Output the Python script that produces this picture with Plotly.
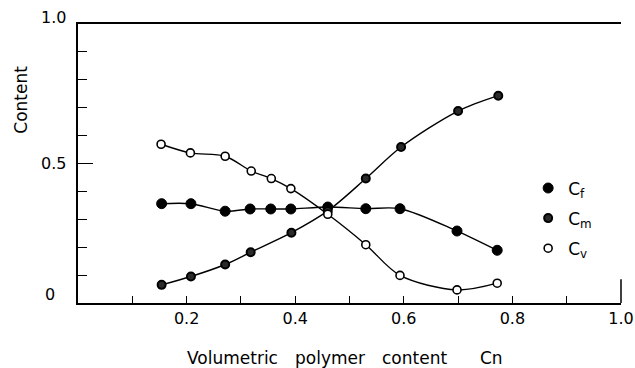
import plotly.graph_objects as go

# ---- data ----
x_f = [0.154, 0.208, 0.271, 0.317, 0.355, 0.392, 0.460, 0.530, 0.593, 0.698, 0.772]
c_f = [0.356, 0.356, 0.329, 0.337, 0.337, 0.337, 0.344, 0.338, 0.338, 0.258, 0.189]

x_m = [0.154, 0.208, 0.271, 0.318, 0.393, 0.460, 0.530, 0.595, 0.700, 0.774]
c_m = [0.065, 0.095, 0.138, 0.182, 0.252, 0.330, 0.446, 0.559, 0.688, 0.743]

x_v = [0.153, 0.207, 0.271, 0.319, 0.356, 0.392, 0.460, 0.530, 0.593, 0.698, 0.772]
c_v = [0.569, 0.538, 0.526, 0.473, 0.446, 0.410, 0.318, 0.209, 0.099, 0.047, 0.071]

series_names = ["C<sub>f</sub>", "C<sub>m</sub>", "C<sub>v</sub>"]

x_tickvals = [0.1, 0.2, 0.3, 0.4, 0.5, 0.6, 0.7, 0.8, 0.9, 1.0]
x_ticktext = ["", "0.2", "", "0.4", "", "0.6", "", "0.8", "", "1.0"]
y_labelvals = [0.0, 0.5, 1.0]
y_labeltext = ["0", "0.5", "1.0"]

x_title_words = ["Volumetric", "polymer", "content", "Cn"]
x_title_pos = [0.285, 0.465, 0.620, 0.762]   # paper positions of each word centre
y_title = "Content"

FONT = "DejaVu Sans"

fig = go.Figure()

line_style = dict(color="black", width=1.4, shape="spline", smoothing=0.9)
for xs, ys in [(x_f, c_f), (x_m, c_m), (x_v, c_v)]:
    fig.add_trace(go.Scatter(x=xs, y=ys, mode="lines", line=line_style,
                             showlegend=False, hoverinfo="skip"))

marker_styles = [
    dict(symbol="circle", size=10, color="black", line=dict(color="black", width=1)),
    dict(symbol="circle", size=8, color="#2a2a2a", line=dict(color="black", width=2)),
    dict(symbol="circle", size=8, color="white", line=dict(color="black", width=1.6)),
]
for (xs, ys), name, ms, grp in zip([(x_f, c_f), (x_m, c_m), (x_v, c_v)],
                                   series_names, marker_styles, ["a", "b", "c"]):
    fig.add_trace(go.Scatter(x=xs, y=ys, mode="markers", marker=ms, name=name,
                             legendgroup=grp))

annotations = []
# y tick labels
y_offsets = [dict(xshift=-28, yshift=9, xanchor="center"),
             dict(xshift=-10, yshift=0, xanchor="right"),
             dict(xshift=-10, yshift=7, xanchor="right")]
for v, t, off in zip(y_labelvals, y_labeltext, y_offsets):
    annotations.append(dict(x=0, xref="paper", y=v, yref="y", text=t, showarrow=False,
                            yanchor="middle", font=dict(family=FONT, size=16, color="black"),
                            **off))
for w, px in zip(x_title_words, x_title_pos):
    annotations.append(dict(x=px, xref="paper", y=-0.197, yref="paper", text=w,
                            showarrow=False, xanchor="center", yanchor="middle",
                            font=dict(family=FONT, size=17, color="black")))
annotations.append(dict(x=-0.104, xref="paper", y=0.727, yref="paper", text=y_title,
                        showarrow=False, textangle=-90, xanchor="center", yanchor="middle",
                        font=dict(family=FONT, size=17, color="black")))

fig.update_layout(
    width=635, height=368,
    margin=dict(l=78, r=1, t=24, b=65),
    paper_bgcolor="white", plot_bgcolor="white",
    font=dict(family=FONT, size=16, color="black"),
    annotations=annotations,
    shapes=[dict(type="line", xref="paper", yref="paper", x0=1, x1=1, y0=0, y1=0.085,
                 line=dict(color="black", width=1.5))],
    legend=dict(x=0.829, y=0.303, xanchor="left", yanchor="middle",
                bgcolor="rgba(0,0,0,0)", font=dict(family=FONT, size=17),
                tracegroupgap=5),
    xaxis=dict(range=[0, 1.0], showgrid=False, zeroline=False,
               showline=True, linecolor="black", linewidth=2, mirror=True,
               ticks="inside", ticklen=7, tickwidth=1.2, tickcolor="black",
               tickvals=x_tickvals, ticktext=x_ticktext,
               tickfont=dict(family=FONT, size=16, color="black"),
               ticklabelstandoff=0, ticklabeloverflow="allow"),
    yaxis=dict(range=[0, 1.0], showgrid=False, zeroline=False,
               showline=True, linecolor="black", linewidth=1.6,
               ticks="inside", ticklen=15, tickwidth=1.2, tickcolor="black",
               tickvals=[0.5], showticklabels=False,
               minor=dict(tickvals=[0.1, 0.2, 0.3, 0.4, 0.6, 0.7, 0.8, 0.9],
                          ticks="inside", ticklen=9, tickwidth=1.2, tickcolor="black")),
)

fig.write_html("out.html")
